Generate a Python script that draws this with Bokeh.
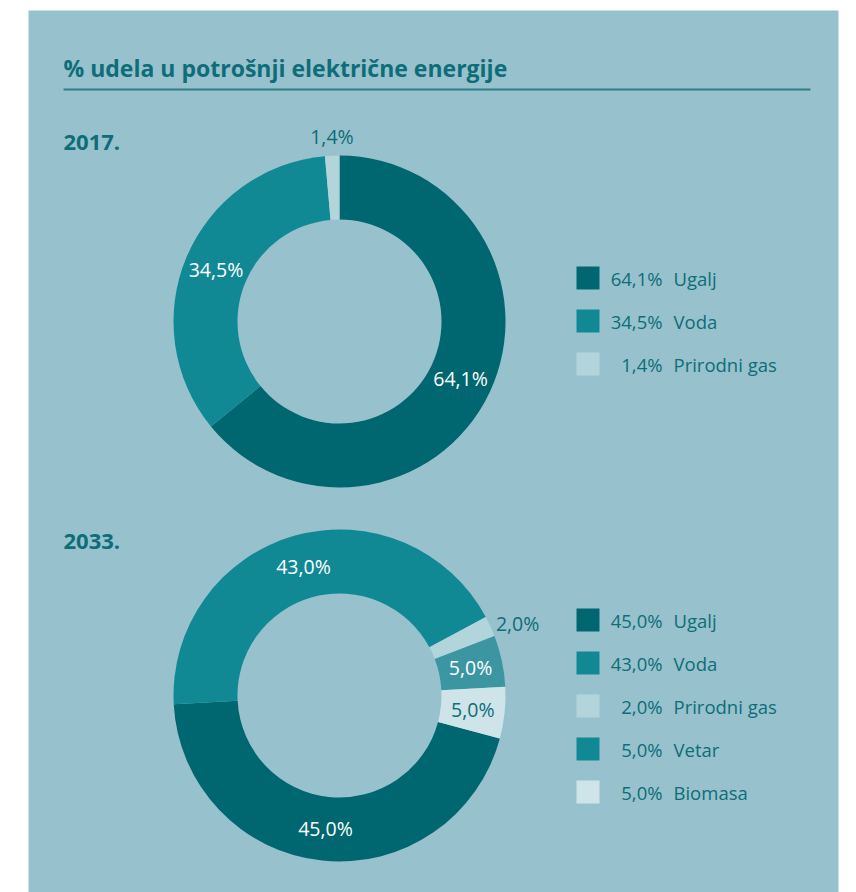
import math
from bokeh.plotting import figure
from bokeh.models import Range1d, ColumnDataSource
from bokeh.core.properties import value
from bokeh.embed import file_html
from bokeh.resources import INLINE

# ---------------- data ----------------
title_text = "% udela u potrošnji električne energije"
years = ["2017.", "2033."]
cats_2017 = ["Ugalj", "Voda", "Prirodni gas"]
vals_2017 = [64.1, 34.5, 1.4]
cats_2033 = ["Ugalj", "Voda", "Prirodni gas", "Vetar", "Biomasa"]
vals_2033 = [45.0, 43.0, 2.0, 5.0, 5.0]

# ---------------- styles ----------------
BG = "#97c2cd"
TEAL = "#0d6d78"
LINE = "#2b7f89"
FONT = "Open Sans"
slice_colors_2017 = ["#00666f", "#118995", "#b2d4db"]
legend_colors_2017 = ["#00666f", "#118995", "#b2d4db"]
label_colors_2017 = ["white", "white", TEAL]
slice_colors_2033 = ["#00666f", "#118995", "#b2d4db", "#3b96a1", "#cfe4e9"]
legend_colors_2033 = ["#00666f", "#118995", "#b2d4db", "#118995", "#cfe4e9"]
label_colors_2033 = ["white", "white", TEAL, "white", TEAL]

W, H = 840, 892
ML, MR, MT, MB = 28, 2, 10, 0
FW, FH = W - ML - MR, H - MT - MB
PX0, PY0 = ML, MT


def fx(px):
    return px - PX0


def fy(py):
    return -(py - PY0)


p = figure(width=W, height=H, output_backend="svg", toolbar_location=None,
           x_range=Range1d(0, FW), y_range=Range1d(-FH, 0),
           min_border_left=ML, min_border_right=MR, min_border_top=MT, min_border_bottom=MB)
p.xaxis.visible = False
p.yaxis.visible = False
p.grid.visible = False
p.outline_line_color = None
p.background_fill_color = BG
p.border_fill_color = "white"

# title + rule
p.text(x=[fx(63)], y=[fy(67)], text=[title_text], text_font=value(FONT),
       text_font_size="23px", text_font_style="bold", text_color=TEAL,
       text_baseline="middle", text_align="left")
p.segment(x0=[fx(63)], y0=[fy(89)], x1=[fx(810)], y1=[fy(89)], line_color=LINE, line_width=2)

R_IN, R_OUT = 102, 166
LABEL_SIZE = "19.5px"
LEGEND_SIZE = "18.5px"


def fmt(v):
    return f"{v:.1f}".replace(".", ",") + "%"


def donut(year, year_y, cats, vals, colors, lcolors, tcolors, cx_p, cy_p, start_deg, leg_top):
    p.text(x=[fx(63)], y=[fy(year_y)], text=[year], text_font=value(FONT),
           text_font_size="22px", text_font_style="bold", text_color=TEAL,
           text_baseline="middle", text_align="left")
    total = sum(vals)
    cx, cy = fx(cx_p), fy(cy_p)
    starts, ends = [], []
    acc = start_deg
    mids = []
    for v in vals:
        d = v / total * 360.0
        starts.append(math.radians(90 - acc))
        ends.append(math.radians(90 - acc - d))
        mids.append(acc + d / 2)
        acc += d
    src = ColumnDataSource(dict(s=starts, e=ends, c=colors))
    p.annular_wedge(x=cx, y=cy, inner_radius=R_IN, outer_radius=R_OUT,
                    start_angle="s", end_angle="e", direction="clock",
                    fill_color="c", line_color=None, source=src)
    # slice labels
    for v, m, tc in zip(vals, mids, tcolors):
        t = math.radians(m)
        if v >= 4:
            r = (R_IN + R_OUT) / 2
            p.text(x=[cx + r * math.sin(t)], y=[cy + r * math.cos(t)], text=[fmt(v)],
                   text_font=value(FONT), text_font_size=LABEL_SIZE, text_color=tc,
                   text_align="center", text_baseline="middle")
        else:
            r = R_OUT + 6
            sx, cy_ = math.sin(t), math.cos(t)
            if abs(sx) < 0.3:
                align, base = "center", "bottom" if cy_ > 0 else "top"
            else:
                align, base = ("left" if sx > 0 else "right"), "middle"
            p.text(x=[cx + r * sx], y=[cy + r * cy_], text=[fmt(v)],
                   text_font=value(FONT), text_font_size=LABEL_SIZE, text_color=TEAL,
                   text_align=align, text_baseline=base)
    # legend
    n = len(cats)
    rows = [leg_top + 43 * i for i in range(n)]
    lsrc = ColumnDataSource(dict(
        x=[fx(576 + 11.5)] * n, y=[fy(r + 11.5) for r in rows], c=lcolors,
        px=[fx(662)] * n, lx=[fx(673)] * n,
        pt=[fmt(v) for v in vals], lt=cats))
    p.rect(x="x", y="y", width=23, height=23, fill_color="c", line_color=None, source=lsrc)
    p.text(x="px", y="y", text="pt", source=lsrc, text_font=value(FONT), text_font_size=LEGEND_SIZE,
           text_color=TEAL, text_align="right", text_baseline="middle")
    p.text(x="lx", y="y", text="lt", source=lsrc, text_font=value(FONT), text_font_size=LEGEND_SIZE,
           text_color=TEAL, text_align="left", text_baseline="middle")


donut(years[0], 142, cats_2017, vals_2017, slice_colors_2017, legend_colors_2017,
      label_colors_2017, 339, 321, 0.0, 266)
donut(years[1], 541, cats_2033, vals_2033, slice_colors_2033, legend_colors_2033,
      label_colors_2033, 339, 695, 105.0, 608)

open("out.html", "w").write(file_html(p, INLINE))
